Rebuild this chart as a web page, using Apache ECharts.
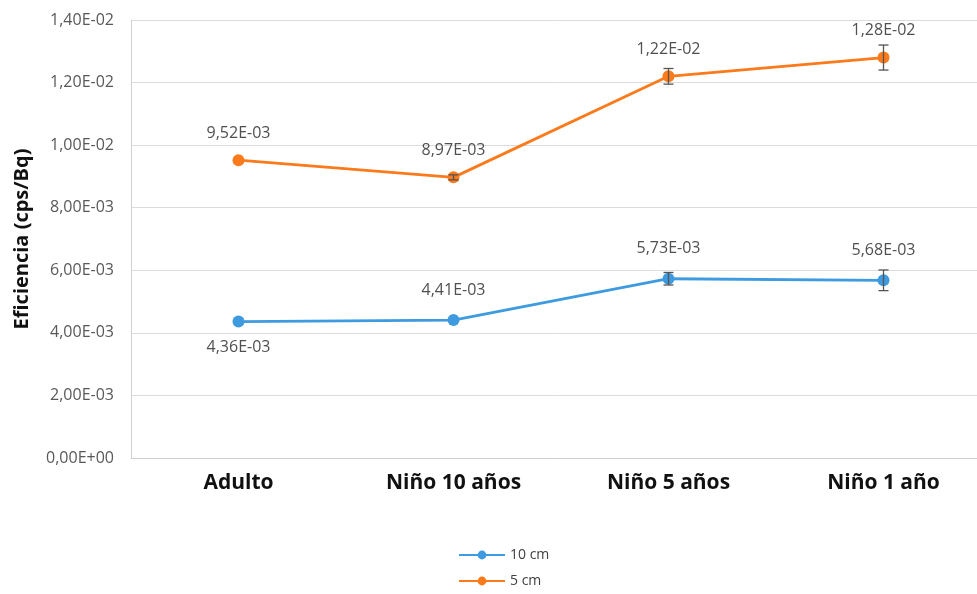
<!DOCTYPE html>
<html>
<head>
<meta charset="utf-8">
<script src="https://cdn.jsdelivr.net/npm/echarts@6/dist/echarts.min.js"></script>
<style>
  html, body { margin: 0; padding: 0; background: #fff; }
  #chart { width: 977px; height: 594px; }
</style>
</head>
<body>
<div id="chart"></div>
<script>
// categorias y valores
const categories = ['Adulto', 'Niño 10 años', 'Niño 5 años', 'Niño 1 año'];
const seriesNames = ['10 cm', '5 cm'];
const values10 = [0.00436, 0.00441, 0.00573, 0.00568];
const values5 = [0.00952, 0.00897, 0.0122, 0.0128];
const err10 = [0, 0, 0.0002, 0.00033];
const err5 = [0, 0.00008, 0.00025, 0.0004];
// posicion de la etiqueta de cada punto (10 cm)
const labelPos10 = ['bottom', 'top', 'top', 'top'];

const colorBlue = '#3e9be0';
const colorOrange = '#fb7a1c';

function fmt(v) {
    // 9.52e-3 -> 9,52E-03
    const s = v.toExponential(2).split('e');
    const exp = parseInt(s[1], 10);
    const sign = exp < 0 ? '-' : '+';
    const e = String(Math.abs(exp)).padStart(2, '0');
    return s[0].replace('.', ',') + 'E' + sign + e;
}

function errorData(values, errs) {
    return values.map(function (v, i) { return [i, v - errs[i], v + errs[i]]; });
}

function renderError(params, api) {
    if (api.value(2) - api.value(1) <= 0) return null;
    const x = api.value(0);
    const low = api.coord([x, api.value(1)]);
    const high = api.coord([x, api.value(2)]);
    const w = 5;
    const style = { stroke: '#555', lineWidth: 1.3 };
    return {
        type: 'group',
        children: [
            { type: 'line', shape: { x1: high[0], y1: high[1], x2: low[0], y2: low[1] }, style: style },
            { type: 'line', shape: { x1: high[0] - w, y1: high[1], x2: high[0] + w, y2: high[1] }, style: style },
            { type: 'line', shape: { x1: low[0] - w, y1: low[1], x2: low[0] + w, y2: low[1] }, style: style }
        ]
    };
}

const chart = echarts.init(document.getElementById('chart'));
chart.setOption({
    animation: false,
    textStyle: { fontFamily: 'Open Sans, Noto Sans, sans-serif' },
    legend: {
        orient: 'vertical',
        left: 453,
        top: 543,
        padding: [5, 5, 0, 5],
        itemGap: 12,
        itemWidth: 46,
        itemHeight: 11,
        textStyle: { fontSize: 14, color: '#404040' },
        data: seriesNames
    },
    grid: { left: 131, top: 20, width: 860, height: 438, outerBoundsMode: 'none' },
    xAxis: {
        type: 'category',
        data: categories,
        axisTick: { show: false },
        axisLine: { lineStyle: { color: '#d0d0d0' } },
        axisLabel: {
            fontSize: 21, fontWeight: 'bold', color: '#111', margin: 15,
            fontFamily: 'Liberation Sans Narrow, Open Sans, sans-serif'
        }
    },
    yAxis: {
        type: 'value',
        min: 0,
        max: 0.014,
        interval: 0.002,
        name: 'Eficiencia (cps/Bq)',
        nameLocation: 'middle',
        nameGap: 99,
        nameTextStyle: { fontSize: 20, fontWeight: 'bold', color: '#111' },
        axisLine: { show: true, lineStyle: { color: '#d0d0d0' } },
        axisLabel: { formatter: fmt, fontSize: 16, color: '#595959', margin: 17 },
        splitLine: { lineStyle: { color: '#dcdcdc' } }
    },
    series: [
        {
            name: '10 cm',
            type: 'line',
            data: values10.map(function (v, i) {
                return { value: v, label: { position: labelPos10[i], distance: i === 0 ? 12 : 16 } };
            }),
            color: colorBlue,
            symbol: 'circle',
            symbolSize: 12,
            lineStyle: { width: 2.8 },
            label: { show: true, formatter: function (p) { return fmt(p.value); }, fontSize: 16, color: '#505050' },
            z: 3
        },
        {
            name: '5 cm',
            type: 'line',
            data: values5,
            color: colorOrange,
            symbol: 'circle',
            symbolSize: 12,
            lineStyle: { width: 2.8 },
            label: { show: true, position: 'top', distance: 13, formatter: function (p) { return fmt(p.value); }, fontSize: 16, color: '#505050' },
            z: 3
        },
        {
            type: 'custom',
            renderItem: renderError,
            data: errorData(values10, err10),
            encode: { x: 0, y: [1, 2] },
            z: 4,
            silent: true
        },
        {
            type: 'custom',
            renderItem: renderError,
            data: errorData(values5, err5),
            encode: { x: 0, y: [1, 2] },
            z: 4,
            silent: true
        }
    ]
});
</script>
</body>
</html>
